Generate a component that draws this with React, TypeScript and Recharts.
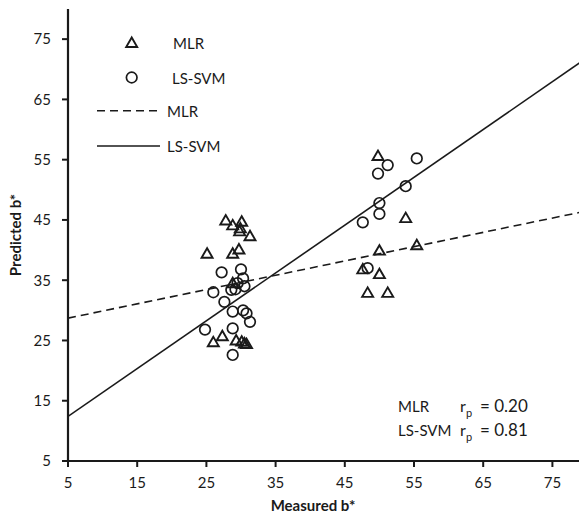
import { ScatterChart, Scatter, XAxis, YAxis, Label } from 'recharts';

// Measured vs predicted b* for the MLR and LS-SVM models
const xTicks = [5, 15, 25, 35, 45, 55, 65, 75];
const yTicks = [5, 15, 25, 35, 45, 55, 65, 75];

const mlrMeasured = [
  27.8, 28.8, 30.1, 29.9, 29.8, 31.3, 25.1, 28.8, 29.7, 28.8, 26.0, 27.3,
  29.3, 30.1, 30.5, 30.8, 49.8, 53.8, 50.0, 55.4, 47.6, 50.0, 48.3, 51.2,
];
const mlrPredicted = [
  44.9, 44.1, 44.7, 43.6, 43.1, 42.3, 39.4, 39.4, 40.1, 34.5, 24.7, 25.7,
  25.0, 24.8, 24.5, 24.4, 55.6, 45.3, 39.9, 40.8, 36.8, 36.0, 32.9, 32.9,
];
const svmMeasured = [
  27.2, 30.0, 30.3, 29.5, 30.5, 29.2, 26.0, 28.6, 27.6, 28.8, 30.3, 30.8,
  31.3, 24.8, 28.8, 28.8, 55.4, 51.2, 49.8, 53.8, 50.0, 50.0, 47.6, 48.3,
];
const svmPredicted = [
  36.3, 36.8, 35.3, 34.5, 34.0, 33.5, 33.0, 33.4, 31.4, 29.8, 30.0, 29.5,
  28.1, 26.8, 27.0, 22.6, 55.2, 54.1, 52.7, 50.6, 47.8, 46.0, 44.6, 37.0,
];

// fitted lines, end points
const mlrFitX = [5, 80];
const mlrFitY = [28.7, 46.5];
const svmFitX = [5, 80];
const svmFitY = [12.4, 71.9];

const notes = [
  { model: 'MLR', r: '0.20' },
  { model: 'LS-SVM', r: '0.81' },
];

const INK = '#1a1a1a';
const FONT = 'Lato, "Open Sans", sans-serif';
const FS = 15;

const toPoints = (xs: number[], ys: number[]) => xs.map((x, i) => ({ x, y: ys[i] }));

function Triangle({ cx, cy }: any) {
  return (
    <path
      d={`M${cx},${cy - 5.5}L${cx - 5.5},${cy + 4}L${cx + 5.5},${cy + 4}Z`}
      fill="none"
      stroke={INK}
      strokeWidth={1.9}
    />
  );
}

function Ring({ cx, cy }: any) {
  return <circle cx={cx} cy={cy} r={5.3} fill="none" stroke={INK} strokeWidth={1.7} />;
}

const NoDot = () => <g />;

function YTitle({ viewBox }: any) {
  const x = 15;
  const y = viewBox ? viewBox.y + viewBox.height / 2 : 235;
  return (
    <text
      x={x}
      y={y}
      transform={`rotate(-90 ${x} ${y})`}
      textAnchor="middle"
      dominantBaseline="central"
      fontFamily={FONT}
      fontSize={FS}
      fontWeight={700}
      fill={INK}
    >
      Predicted b*
    </text>
  );
}

function XTitle() {
  return (
    <text
      x={313}
      y={505}
      textAnchor="middle"
      dominantBaseline="central"
      fontFamily={FONT}
      fontSize={FS}
      fontWeight={700}
      fill={INK}
    >
      Measured b*
    </text>
  );
}

function Overlay() {
  const txt = { fontFamily: FONT, fontSize: FS, fill: INK };
  return (
    <svg
      width={579}
      height={519}
      style={{ position: 'absolute', left: 0, top: 0, pointerEvents: 'none' }}
    >
      {/* legend */}
      <Triangle cx={131.7} cy={43} />
      <text x={173} y={43} dominantBaseline="central" {...txt}>MLR</text>
      <Ring cx={131.7} cy={77.5} />
      <text x={172} y={77.5} dominantBaseline="central" {...txt}>LS-SVM</text>
      <line x1={97} x2={160} y1={110.7} y2={110.7} stroke={INK} strokeWidth={1.6} strokeDasharray="8 5" />
      <text x={167} y={110.7} dominantBaseline="central" {...txt}>MLR</text>
      <line x1={97} x2={160} y1={146} y2={146} stroke={INK} strokeWidth={1.6} />
      <text x={167} y={146} dominantBaseline="central" {...txt}>LS-SVM</text>

      {/* correlation notes */}
      {notes.map((n, i) => {
        const y = 411.5 + i * 24.5;
        return (
          <g key={n.model}>
            <text x={398} y={y} {...txt}>{n.model}</text>
            <text x={460} y={y} {...txt} fontSize={16}>r</text>
            <text x={466} y={y + 5} {...txt} fontSize={11}>p</text>
            <text x={480} y={y} {...txt} fontSize={17}>= {n.r}</text>
          </g>
        );
      })}
    </svg>
  );
}

export default function App() {
  const tick = { fontFamily: FONT, fontSize: FS, fill: INK };
  return (
    <div
      style={{
        position: 'fixed',
        left: 0,
        top: 0,
        width: 579,
        height: 519,
        overflow: 'hidden',
        background: '#fff',
      }}
    >
      <ScatterChart width={600} height={519} margin={{ top: 9, right: 13, bottom: 0, left: 0 }}>
        <XAxis
          type="number"
          dataKey="x"
          domain={[5, 80]}
          ticks={xTicks}
          allowDataOverflow
          height={58}
          tickSize={6}
          tickMargin={10}
          tick={tick}
          tickLine={{ stroke: INK, strokeWidth: 2 }}
          axisLine={{ stroke: INK, strokeWidth: 2.2 }}
        >
          <Label content={<XTitle />} />
        </XAxis>
        <XAxis
          xAxisId="top"
          orientation="top"
          type="number"
          dataKey="x"
          domain={[5, 80]}
          height={0}
          tick={false}
          tickLine={false}
          axisLine={{ stroke: INK, strokeWidth: 2 }}
        />
        <YAxis
          type="number"
          dataKey="y"
          domain={[5, 80]}
          ticks={yTicks}
          allowDataOverflow
          width={68}
          tickSize={6}
          tickMargin={11}
          tick={tick}
          tickLine={{ stroke: INK, strokeWidth: 2 }}
          axisLine={{ stroke: INK, strokeWidth: 2.2 }}
        >
          <Label content={<YTitle />} />
        </YAxis>
        <Scatter
          data={toPoints(mlrFitX, mlrFitY)}
          line={{ stroke: INK, strokeWidth: 1.6, strokeDasharray: '8 5' }}
          shape={NoDot}
          isAnimationActive={false}
        />
        <Scatter
          data={toPoints(svmFitX, svmFitY)}
          line={{ stroke: INK, strokeWidth: 1.6 }}
          shape={NoDot}
          isAnimationActive={false}
        />
        <Scatter
          data={toPoints(mlrMeasured, mlrPredicted)}
          shape={Triangle}
          isAnimationActive={false}
        />
        <Scatter
          data={toPoints(svmMeasured, svmPredicted)}
          shape={Ring}
          isAnimationActive={false}
        />
      </ScatterChart>
      <Overlay />
    </div>
  );
}
